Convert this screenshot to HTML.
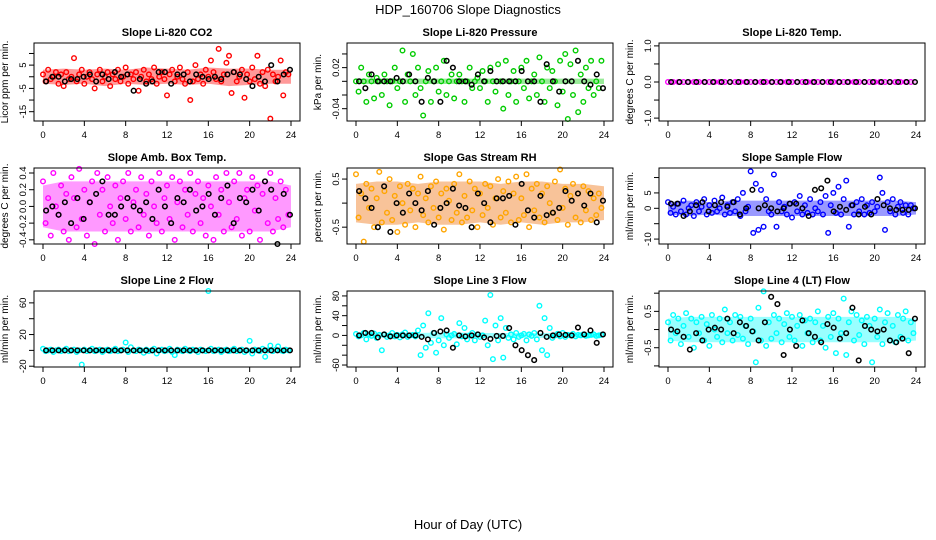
<!DOCTYPE html>
<html><head><meta charset="utf-8"><style>
body{margin:0;background:#fff}
svg{display:block;font-family:"Liberation Sans",sans-serif}
</style></head><body>
<svg id="chart" width="936" height="540" viewBox="0 0 936 540">
<text x="468" y="14" text-anchor="middle" font-size="13">HDP_160706  Slope Diagnostics</text>
<text x="468" y="529" text-anchor="middle" font-size="13">Hour of Day (UTC)</text>
</svg>
<script>
const xTicks=[0,4,8,12,16,20,24];
const co2Vals=[1,-2,3,-1,0,2,-3,1,-4,2,-1,0,8,-2,1,3,-3,0,2,-1,-5,1,3,-2,0,2,-4,1,-1,3,-2,0,4,-3,1,-1,2,-6,0,3,-2,1,-1,4,-3,0,2,-1,-8,1,3,-2,0,4,-1,-3,2,-10,-2,5,-1,1,-3,3,0,7,2,-1,12,-2,1,6,9,-7,2,-2,0,3,-9,1,-2,4,-1,9,-3,2,-4,3,-18,1,-2,0,7,-8,2,1];
const co2Black=[-2,0,0,-2,-1,-1,0,1,-2,1,-1,2,0,1,-6,-1,-3,-2,2,2,-3,1,1,-2,1,0,-1,0,-1,1,2,1,-1,-4,0,-2,5,-2,1,3];
const co2Hi=[3,3.5,3,3.5,3,4,3.5,3,4,3.5,3.5,3,3];
const co2Lo=[-3,-3.5,-3,-4,-3,-3.5,-3,-3.5,-3,-4,-3.5,-3,-3];
const prsVals=[0,-0.015,0.02,0,-0.03,0.01,0,-0.025,0.005,0,-0.02,0.01,0,-0.035,0,0.02,-0.01,0,0.045,-0.03,0.01,0,0.04,-0.02,0.02,-0.01,-0.05,0,0.015,-0.03,0,0.02,-0.015,0,0.03,-0.02,0,0.01,-0.025,0,0.01,0,-0.03,0,0.02,-0.01,0,0.005,-0.01,0.015,0,-0.03,0.02,0,-0.015,0.025,0,-0.04,0.03,-0.02,0,0.015,-0.03,0,0.02,-0.01,0.03,-0.025,0,0.01,-0.02,0.035,0,-0.03,0.02,-0.01,0.015,0,-0.035,0.03,-0.015,0.04,-0.055,0.025,-0.02,0.045,-0.045,0.01,-0.03,0.02,-0.01,0.03,-0.02,0,-0.01,0.03];
const prsBlack=[0,-0.01,0.01,0,0,0,0.005,0,0.01,0,-0.03,0.005,0,-0.03,0.03,0.02,0,0,-0.005,0.01,0,0.015,0,0,0,0,0.015,0,0,-0.03,0.025,0,-0.015,0,0,0.03,0,-0.005,0.01,-0.01];
const prsHi=[0.004,0.004,0.004,0.004,0.004,0.004,0.004,0.004,0.004,0.004,0.004,0.004,0.004];
const prsLo=[-0.004,-0.004,-0.004,-0.004,-0.004,-0.004,-0.004,-0.004,-0.004,-0.004,-0.004,-0.004,-0.004];
const tmpVals=[0,0,0,0,0,0,0,0,0,0,0,0,0,0,0,0,0,0,0,0,0,0,0,0,0,0,0,0,0,0,0,0,0,0,0,0,0,0,0,0,0,0,0,0,0,0,0,0];
const tmpBlack=[0,0,0,0,0,0,0,0,0,0,0,0,0,0,0,0,0,0,0,0,0,0,0,0,0,0,0,0,0,0];
const tmpHi=[0.02,0.02,0.02,0.02,0.02,0.02,0.02,0.02,0.02,0.02,0.02,0.02,0.02];
const tmpLo=[-0.02,-0.02,-0.02,-0.02,-0.02,-0.02,-0.02,-0.02,-0.02,-0.02,-0.02,-0.02,-0.02];
const ambVals=[0.3,-0.2,0.1,-0.35,0.4,0,-0.1,0.25,-0.3,0.15,-0.4,0.35,0.1,-0.25,0.45,-0.15,0.2,-0.35,0.05,0.3,-0.45,0.4,-0.1,0.2,-0.3,0.35,0,-0.2,0.25,-0.4,0.1,0.3,-0.15,0.4,-0.3,0.05,0.2,-0.25,0.35,-0.1,0.15,-0.35,0.3,0,-0.2,0.4,-0.3,0.1,0.25,-0.15,0.35,-0.4,0.05,0.3,-0.25,0.2,-0.1,0.4,-0.3,0.15,0.3,-0.2,0.1,-0.35,0.25,0,-0.4,0.35,-0.1,0.2,-0.3,0.4,0.05,-0.25,0.3,-0.15,0.4,-0.35,0.1,0.2,-0.3,0.35,-0.05,0.25,-0.4,0.15,0.3,-0.2,0.4,-0.3,0.1,-0.15,0.3,-0.25,0.2,-0.1];
const ambBlack=[-0.05,0,-0.1,0.05,-0.2,0.1,-0.15,0.05,0.15,0.3,-0.1,-0.1,0,0.1,0,-0.05,0.05,-0.15,0.2,0,-0.2,0.1,0.05,0.2,-0.05,0,0.15,-0.1,0.1,0.25,-0.2,0.1,0.05,0.2,-0.05,0.3,0.2,-0.45,0.15,-0.1];
const ambHi=[0.25,0.3,0.3,0.3,0.3,0.3,0.3,0.3,0.3,0.3,0.3,0.3,0.25];
const ambLo=[-0.25,-0.3,-0.3,-0.3,-0.3,-0.3,-0.3,-0.3,-0.3,-0.3,-0.3,-0.3,-0.25];
const rhVals=[0.6,-0.3,0.2,-0.8,0.4,-0.1,0.3,-0.5,0.1,0.65,-0.4,0.25,-0.2,0.5,-0.35,0.15,-0.6,0.35,0,-0.45,0.4,-0.15,0.3,-0.5,0.2,0.55,-0.25,0.1,-0.4,0.35,-0.1,0.45,-0.3,0.2,-0.55,0.3,0.05,-0.35,0.4,-0.2,0.6,-0.4,0.15,-0.3,0.45,-0.15,0.3,-0.5,0.2,-0.25,0.4,-0.1,0.35,-0.45,0.1,0.5,-0.3,0.25,-0.2,0.45,-0.4,0.2,0.55,-0.35,0.1,-0.25,0.6,-0.5,0.3,-0.15,0.4,-0.3,0.2,-0.4,0.35,0,-0.2,0.45,-0.35,0.7,-0.1,0.3,-0.45,0.15,0.4,-0.3,0.2,-0.4,0.35,-0.15,0.25,-0.35,0.1,-0.25,0.2,-0.1];
const rhBlack=[0.25,0.1,-0.1,-0.5,0.35,-0.6,0,-0.2,0.2,0,-0.15,0.25,-0.45,-0.1,0,0.3,-0.05,-0.1,-0.5,0.2,0,-0.4,0.1,0.1,0.15,-0.45,0.4,-0.15,-0.3,0.15,-0.25,-0.2,-0.1,0.25,0.05,0.2,-0.05,0.2,-0.4,0.05];
const rhHi=[0.4,0.45,0.45,0.4,0.45,0.45,0.45,0.4,0.45,0.45,0.4,0.4,0.35];
const rhLo=[-0.4,-0.45,-0.45,-0.4,-0.45,-0.45,-0.4,-0.45,-0.4,-0.45,-0.4,-0.4,-0.35];
const sfVals=[2,-1.5,0.5,-2,1.5,-1,2.5,-2,0,1,-2.5,2,-1,0.5,3,-2,1,-1.5,2.5,-1,0,3.5,-2,1,-1.5,2,-1,3,-2.5,5,-1,0.5,12,-8,8,-7,6,-6,3,-1,-2,11,-6,2,-1,0.5,-2,1.5,-3,2,-1,4,-2,1,-1.5,3,-2,0,-1,2,-2,4,-8,1,5,-1.5,7,-2,3,9,-6,1,-2,2,-1,3,-2,1,-1.5,2,-1,0.5,10,5,-7,2,-1,3,-2,0.5,2,-1.5,1,-2,1,0];
const sfBlack=[1.5,1.5,-2.5,-1,1,2,-1,1,2,0.5,2,-2,0,6,0,1,0,-1,0,1.5,1.5,0,-2.5,6,6.5,9,-1,0.5,-0.5,1,-2,0.5,-2,3,1,0,-0.5,-0.5,-0.5,0];
const sfHi=[2,2.5,2,2.5,2.5,2.5,2.5,2.5,2.5,2.5,2.5,2.5,2];
const sfLo=[-2,-2.5,-2,-2.5,-2.5,-2.5,-2.5,-2.5,-2.5,-2.5,-2.5,-2.5,-2];
const l2Vals=[2,-1,0,1,-2,0,1,-1,0,2,-1,0,1,-2,0,-18,1,-1,0,2,-1,0,1,-2,0,1,-1,0,2,-1,0,1,10,-2,4,0,-1,1,0,-3,1,-1,0,2,-4,0,1,-1,0,2,-2,-6,1,0,-1,2,0,-1,1,0,-2,1,0,-1,75,2,-1,0,1,-2,0,1,-1,0,2,-1,0,1,-2,0,12,-4,1,0,-1,2,-8,0,6,-1,1,5,0,-1,1,0];
const l2Black=[0,0,0,0,0,0,0,0,0,0,0,0,0,0,0,0,0,0,0,0,0,0,0,0,0,0,0,0,0,0,0,0,0,0,0,0,0,0,0,0];
const l2Hi=[2,2,2,2,2,2,2,2,2,2,2,2,2];
const l2Lo=[-2,-2,-2,-2,-2,-2,-2,-2,-2,-2,-2,-2,-2];
const l3Vals=[3,-2,0,5,-8,2,-1,4,-5,1,-30,2,-3,0,5,-2,1,-4,2,6,-3,0,1,-2,10,-40,20,-25,45,-15,5,-35,-10,35,-20,2,-5,0,3,-18,25,-2,15,-8,0,5,-10,2,-3,0,30,-20,82,-48,20,-10,35,-45,15,-5,2,-8,5,-3,0,3,-10,2,-1,5,-8,60,-30,35,-40,15,-5,0,3,-2,5,-3,1,0,3,-2,1,0,2,-1,0,1,2,-1,0,1];
const l3Black=[0,5,5,-4,2,-2,0,0,0,0,-3,-8,5,8,10,-25,0,-2,0,2,-4,-7,-1,-1,15,-20,-30,-40,-50,5,-3,0,2,1,0,16,2,10,-15,2];
const l3Hi=[4,5,5,5,6,6,5,5,5,5,5,5,4];
const l3Lo=[-4,-5,-5,-5,-6,-6,-5,-5,-5,-5,-5,-5,-4];
const l4Vals=[0.2,-0.3,0.4,-0.1,0.3,-0.4,0.1,0.45,-0.2,0.3,-0.5,0.2,-0.1,0.35,-0.3,0.15,-0.45,0.4,0,-0.2,0.3,-0.35,0.55,-0.1,0.2,-0.3,0.4,-0.15,0.35,-0.25,0.1,-0.4,0.3,-0.05,-0.9,0.6,-0.3,1.05,-0.45,0.2,-0.25,0.4,-0.1,0.3,-0.35,0.15,0.45,-0.2,0.35,-0.3,0.1,0.4,-0.45,0.25,-0.1,0.3,-0.35,0.2,0.5,-0.3,0.1,-0.5,0.35,-0.2,0.45,-0.65,0.3,-0.1,0.85,-0.7,0.2,0.5,-0.3,0.4,-0.15,0.25,-0.4,0.35,0.1,-0.9,0.3,-0.2,0.55,-0.4,0.2,0.45,-0.3,0.1,-0.35,0.4,-0.2,0.3,0.5,-0.3,0.2,-0.1];
const l4Black=[0,-0.05,-0.2,-0.55,-0.1,-0.3,0,0.05,0,0.3,-0.1,0.2,0.1,-0.05,-0.3,0.2,0.9,0.7,-0.7,0,-0.45,0.25,-0.1,-0.2,-0.35,0.15,0.05,-0.25,-0.1,0.6,-0.85,0.1,0,-0.05,0,-0.3,-0.35,-0.25,-0.65,0.3];
const l4Hi=[0.3,0.35,0.35,0.35,0.35,0.35,0.35,0.35,0.35,0.35,0.35,0.35,0.3];
const l4Lo=[-0.3,-0.35,-0.35,-0.35,-0.35,-0.35,-0.35,-0.35,-0.35,-0.35,-0.35,-0.35,-0.3];

const NS='http://www.w3.org/2000/svg';
const svg=document.getElementById('chart');
function mk(tag,attrs,parent){const e=document.createElementNS(NS,tag);for(const k in attrs)e.setAttribute(k,attrs[k]);(parent||svg).appendChild(e);return e;}
const colL=[34,347,659], rowT=[43,168,291], rowB=[121,244,367], W=266;
const panels=[
 {t:'Slope Li-820 CO2',yl:'Licor ppm per min.',c:0,r:0,y0:-19,y1:14.5,ticks:[-15,-10,-5,0,5,10],labs:[-15,-5,5],col:'#ff0000',v:co2Vals,b:co2Black,hi:co2Hi,lo:co2Lo,d:0},
 {t:'Slope Li-820 Pressure',yl:'kPa per min.',c:1,r:0,y0:-0.058,y1:0.056,ticks:[-0.04,-0.02,0,0.02,0.04],labs:[-0.04,0.02],col:'#00cc00',v:prsVals,b:prsBlack,hi:prsHi,lo:prsLo,d:2},
 {t:'Slope Li-820 Temp.',yl:'degrees C per min.',c:2,r:0,y0:-1.08,y1:1.08,ticks:[-1,-0.5,0,0.5,1],labs:[-1,0,1],col:'#ff00ff',v:tmpVals,b:tmpBlack,hi:tmpHi,lo:tmpLo,d:1},
 {t:'Slope Amb. Box Temp.',yl:'degrees C per min.',c:0,r:1,y0:-0.45,y1:0.46,ticks:[-0.4,-0.2,0,0.2,0.4],labs:[-0.4,-0.2,0,0.2,0.4],col:'#ff00ff',v:ambVals,b:ambBlack,hi:ambHi,lo:ambLo,d:1},
 {t:'Slope Gas Stream RH',yl:'percent per min.',c:1,r:1,y0:-0.85,y1:0.73,ticks:[-0.5,0,0.5],labs:[-0.5,0.5],col:'#ffa500',v:rhVals,b:rhBlack,hi:rhHi,lo:rhLo,d:1,band:'#ee6a00'},
 {t:'Slope Sample Flow',yl:'ml/min per min.',c:2,r:1,y0:-11.6,y1:13.1,ticks:[-10,-5,0,5,10],labs:[-10,0,5],col:'#0000ff',v:sfVals,b:sfBlack,hi:sfHi,lo:sfLo,d:0},
 {t:'Slope Line 2 Flow',yl:'ml/min per min.',c:0,r:2,y0:-21,y1:75,ticks:[-20,0,20,40,60],labs:[-20,20,60],col:'#00ffff',v:l2Vals,b:l2Black,hi:l2Hi,lo:l2Lo,d:0},
 {t:'Slope Line 3 Flow',yl:'ml/min per min.',c:1,r:2,y0:-64,y1:90,ticks:[-60,-40,-20,0,20,40,60,80],labs:[-60,0,40,80],col:'#00ffff',v:l3Vals,b:l3Black,hi:l3Hi,lo:l3Lo,d:0},
 {t:'Slope Line 4 (LT) Flow',yl:'ml/min per min.',c:2,r:2,y0:-1.03,y1:1.06,ticks:[-1,-0.5,0,0.5,1],labs:[-0.5,0.5],col:'#00ffff',v:l4Vals,b:l4Black,hi:l4Hi,lo:l4Lo,d:1}
];
panels.forEach((p,pi)=>{
  const L=colL[p.c],T=rowT[p.r],B=rowB[p.r];
  const sx=h=>L+9+h*(248/24);
  const sy=v=>B-(v-p.y0)/(p.y1-p.y0)*(B-T);
  const g=mk('g',{});
  
  
  const ti=mk('text',{x:L+W/2,y:T-7,'text-anchor':'middle','font-size':11,'font-weight':'bold'},g);ti.textContent=p.t;
  
  
  const cx=L-26,cy=(T+B)/2;
  const yl=mk('text',{x:cx,y:cy,'text-anchor':'middle','font-size':10,transform:`rotate(-90 ${cx} ${cy})`},g);yl.textContent=p.yl;
  
  
  let pts=[];p.hi.forEach((v,i)=>pts.push(sx(i*2)+','+sy(v)));
  for(let i=p.lo.length-1;i>=0;i--)pts.push(sx(i*2)+','+sy(p.lo[i]));
  const band=mk('polygon',{points:pts.join(' '),fill:p.band||p.col,'fill-opacity':0.4},g);
  
  
  const n=p.v.length;
  p.v.forEach((v,i)=>{const h=i*24/n;const c=mk('circle',{cx:sx(h),cy:sy(v),r:2.3,fill:'none',stroke:p.col,'stroke-width':1.4},g);
    
    });
  const m=p.b.length;
  p.b.forEach((v,i)=>{const h=0.3+i*23.6/(m-1);const c=mk('circle',{cx:sx(h),cy:sy(v),r:2.3,fill:'none',stroke:'#000','stroke-width':1.5},g);
    
    });
  const box=mk('rect',{x:L,y:T,width:W,height:B-T,fill:'none',stroke:'#000','stroke-width':1},g);
  
  
  xTicks.forEach(h=>{mk('line',{x1:sx(h),x2:sx(h),y1:B,y2:B+5,stroke:'#000'},g);
    const t=mk('text',{x:sx(h),y:B+17,'text-anchor':'middle','font-size':9.5},g);t.textContent=h;
    
    });
  p.ticks.forEach(v=>{mk('line',{x1:L-5,x2:L,y1:sy(v),y2:sy(v),stroke:'#000'},g);});
  p.labs.forEach(v=>{const y=sy(v),x=L-8;const t=mk('text',{x:x,y:y,'text-anchor':'middle','font-size':9.5,transform:`rotate(-90 ${x} ${y})`},g);t.textContent=v.toFixed(p.d);
    
    });
});
</script>
</body></html>
